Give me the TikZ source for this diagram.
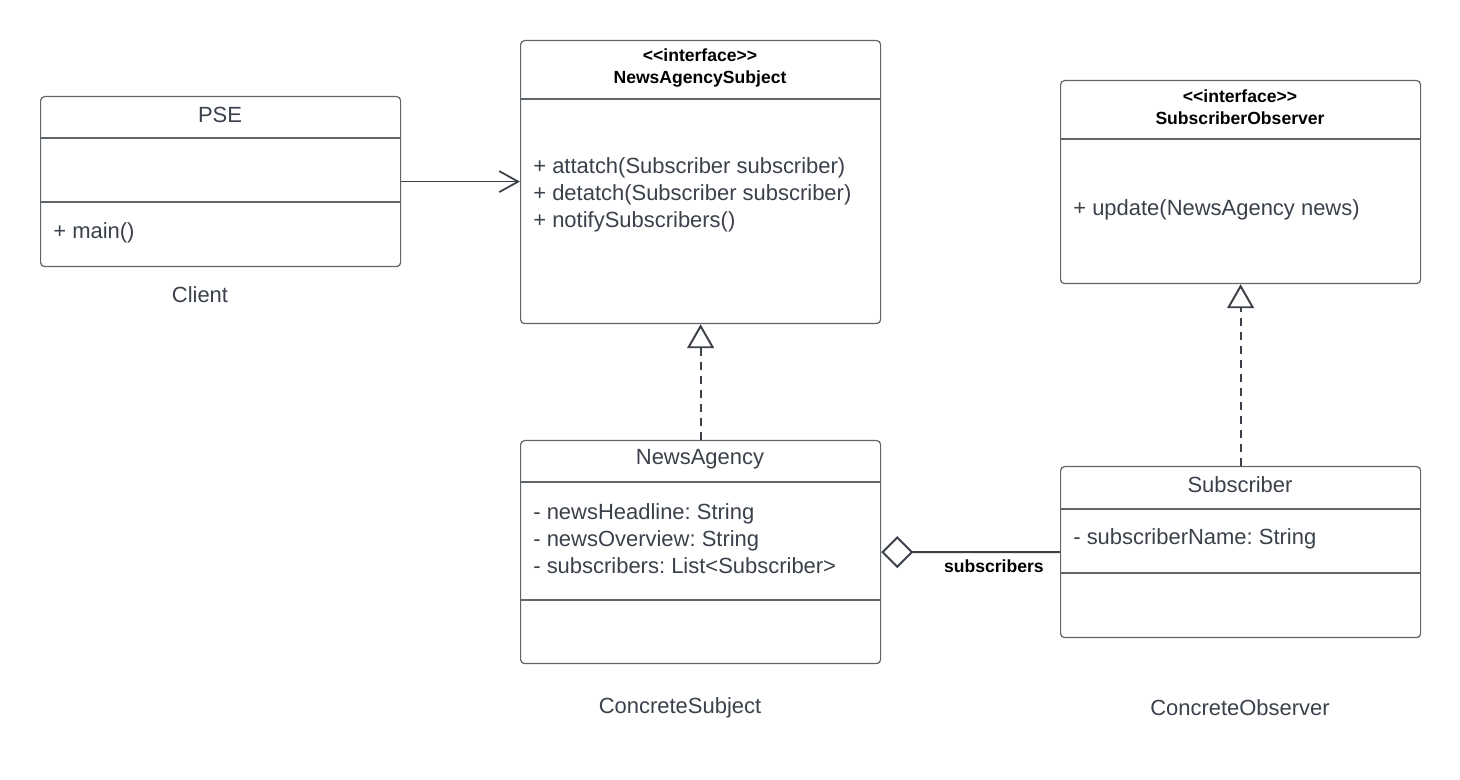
\documentclass[tikz,border=0pt]{standalone}
\usepackage{fontspec}
\setmainfont{Liberation Sans}
\usetikzlibrary{arrows.meta}
\frenchspacing
\definecolor{umltext}{HTML}{3A414A}
\definecolor{umlline}{HTML}{60646B}
\definecolor{umlarrow}{HTML}{3A3F48}

\tikzstyle{classbox}=[draw=umlline, line width=0.7pt, rounded corners=0.08cm, anchor=north west, minimum width=7.2cm, inner sep=0pt]
\tikzstyle{sep}=[draw=umlline, line width=0.7pt]
\tikzstyle{title}=[text=umltext, font=\fontsize{12.5}{15}\selectfont]
\tikzstyle{stereo}=[text=black, font=\bfseries\fontsize{10}{12.5}\selectfont, align=center]
\tikzstyle{member}=[text=umltext, anchor=west, align=left, inner sep=0pt, font=\fontsize{12.5}{15.4}\selectfont]
\tikzstyle{assoc}=[draw=umlarrow, line width=1pt, -{Straight Barb[length=0.38cm,width=0.42cm]}]
\tikzstyle{realize}=[draw=umlarrow, line width=1.1pt, dash pattern=on 0.16cm off 0.12cm, -{Triangle[open,length=0.48cm,width=0.54cm]}]
\tikzstyle{aggr}=[draw=umlarrow, line width=1.1pt, {Diamond[open,length=0.64cm,width=0.64cm]}-]

\begin{document}
\begin{tikzpicture}
\useasboundingbox (0,0) rectangle (29.2,-15.6);

\node[classbox, minimum height=3.4cm] (pse) at (0.8,-1.92) {};
\draw[sep] (0.8,-2.76) -- (8.0,-2.76);
\draw[sep] (0.8,-4.04) -- (8.0,-4.04);
\node[title] (psename) at (4.4,-2.3) {PSE};
\node[member] (psemain) at (1.06,-4.66) {+ main()};
\node[title] (client) at (4.0,-5.9) {Client};

\node[classbox, minimum height=5.66cm] (nas) at (10.4,-0.8) {};
\draw[sep] (10.4,-1.98) -- (17.6,-1.98);
\node[stereo] (nasname) at (14,-1.36) {<{}<interface>{}>\\NewsAgencySubject};
\node[member] (nasops) at (10.66,-3.9) {+ attatch(Subscriber subscriber)\\+ detatch(Subscriber subscriber)\\+ notifySubscribers()};

\node[classbox, minimum height=4.06cm] (so) at (21.2,-1.6) {};
\draw[sep] (21.2,-2.78) -- (28.4,-2.78);
\node[stereo] (soname) at (24.8,-2.15) {<{}<interface>{}>\\SubscriberObserver};
\node[member] (soops) at (21.46,-4.2) {+ update(NewsAgency news)};

\node[classbox, minimum height=4.46cm] (na) at (10.4,-8.8) {};
\draw[sep] (10.4,-9.64) -- (17.6,-9.64);
\draw[sep] (10.4,-12.0) -- (17.6,-12.0);
\node[title] (naname) at (14,-9.18) {NewsAgency};
\node[member] (naattr) at (10.66,-10.78) {- newsHeadline: String\\- newsOverview: String\\- subscribers: List<{}Subscriber>};
\node[title] (csubj) at (13.6,-14.16) {ConcreteSubject};

\node[classbox, minimum height=3.42cm] (sub) at (21.2,-9.32) {};
\draw[sep] (21.2,-10.18) -- (28.4,-10.18);
\draw[sep] (21.2,-11.46) -- (28.4,-11.46);
\node[title] (subname) at (24.8,-9.7) {Subscriber};
\node[member] (subattr) at (21.46,-10.78) {- subscriberName: String};
\node[title] (cobs) at (24.8,-14.16) {ConcreteObserver};

\draw[assoc] (pse.east) -- (nas.west |- pse.east);
\draw[realize] (na.north) -- (nas.south);
\draw[realize] (sub.north) -- (so.south);
\draw[aggr] (na.east) -- (sub.west) node[pos=0.63, below=0.02cm, text=black, font=\bfseries\fontsize{10}{12}\selectfont] {subscribers};
\end{tikzpicture}
\end{document}
